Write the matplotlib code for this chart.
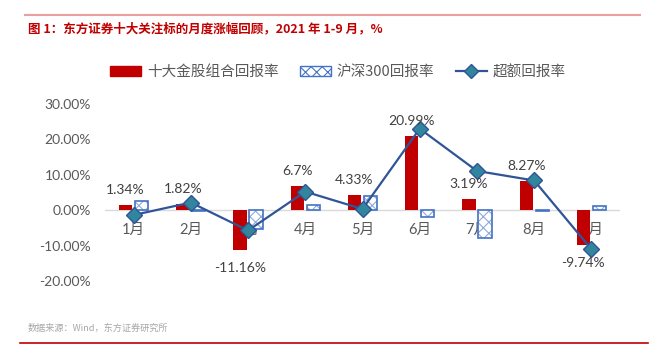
import matplotlib
matplotlib.use("Agg")
import matplotlib.pyplot as plt
from matplotlib.patches import Patch
from matplotlib.lines import Line2D
import numpy as np

plt.rcParams['font.family'] = ['Lato', 'Noto Sans CJK SC', 'DejaVu Sans']

months = ["1月", "2月", "3月", "4月", "5月", "6月", "7月", "8月", "9月"]
top10 = [1.34, 1.82, -11.16, 6.7, 4.33, 20.99, 3.19, 8.27, -9.74]
hs300 = [2.70, -0.34, -5.43, 1.46, 4.00, -2.03, -7.90, -0.12, 1.27]
excess = [-1.36, 2.16, -5.73, 5.24, 0.33, 23.02, 11.09, 8.39, -11.01]
labels = ["1.34%", "1.82%", "-11.16%", "6.7%", "4.33%", "20.99%", "3.19%", "8.27%", "-9.74%"]
yticks = [-20, -10, 0, 10, 20, 30]

RED = "#C00000"
BLUE = "#2F5597"
LBLUE = "#8FAADC"
GRAY = "#595959"

fig = plt.figure(figsize=(6.53, 3.52), dpi=100)
ax = fig.add_axes([105/653, 1-281/352, 515/653, 177/352])

x = np.arange(len(months))
w = 0.23
off = 0.14
ax.bar(x - off, top10, width=w, color=RED, zorder=2)
plt.rcParams['hatch.linewidth'] = 0.8
ax.bar(x + off, hs300, width=w, facecolor="white", edgecolor=LBLUE, hatch="xxx", linewidth=0, zorder=2)
ax.bar(x + off, hs300, width=w, facecolor="none", edgecolor="#4472C4", linewidth=1.2, zorder=3)
ax.plot(x, excess, color=BLUE, linewidth=1.6, marker="D", markersize=8,
        markerfacecolor="#31859C", markeredgecolor=BLUE, markeredgewidth=1, zorder=4)

ax.axhline(0, color="#D9D9D9", linewidth=1, zorder=1)
ax.set_xlim(-0.5, len(months) - 0.5)
ax.set_ylim(-20, 30)
ax.set_yticks(yticks)
ax.set_yticklabels([f"{v:.2f}%" for v in yticks], color=GRAY, fontsize=10)
ax.tick_params(axis='y', length=0, pad=10)
ax.set_xticks([])
for s in ax.spines.values():
    s.set_visible(False)

for i, m in enumerate(months):
    ax.annotate(m, (i, 0), xytext=(0, -20), textcoords='offset pixels',
                ha='center', va='center', fontsize=10.5, color=GRAY, zorder=1)

for i, (v, lab) in enumerate(zip(top10, labels)):
    dy = 15 if v >= 0 else -18
    ax.annotate(lab, (i - off, v), xytext=(0, dy), textcoords='offset pixels',
                ha='center', va='center', fontsize=10, color="#404040", zorder=5)

handles = [Patch(facecolor=RED, edgecolor=RED),
           Patch(facecolor="white", edgecolor="#4472C4", hatch="xxx"),
           Line2D([0], [0], color=BLUE, linewidth=1.6, marker="D", markersize=7,
                  markerfacecolor="#31859C", markeredgecolor=BLUE)]
fig.legend(handles, ["十大金股组合回报率", "沪深300回报率", "超额回报率"],
           loc='center', bbox_to_anchor=(338/653, 1-72/352), ncol=3, frameon=False,
           prop={'family': ['Noto Sans CJK SC'], 'size': 10.5}, labelcolor=GRAY,
           handlelength=2.1, handleheight=0.6, columnspacing=1.5, handletextpad=0.4)

fig.add_artist(Line2D([25/653, 640/653], [1-15/352, 1-15/352], color="#E8A0A0", linewidth=1.5))
fig.text(28/653, 1-29/352, "图 1：东方证券十大关注标的月度涨幅回顾，2021 年 1-9 月，%",
         color=RED, fontsize=9, fontweight='bold', ha='left', va='center',
         family=['Noto Sans CJK SC'])
fig.text(28/653, 1-328/352, "数据来源：Wind，东方证券研究所", color="#A6A6A6",
         fontsize=6.6, ha='left', va='center', family=['Noto Sans CJK SC'])
fig.add_artist(Line2D([20/653, 648/653], [1-343/352, 1-343/352], color=RED, linewidth=1.2))

fig.savefig("out.png", dpi=100)
